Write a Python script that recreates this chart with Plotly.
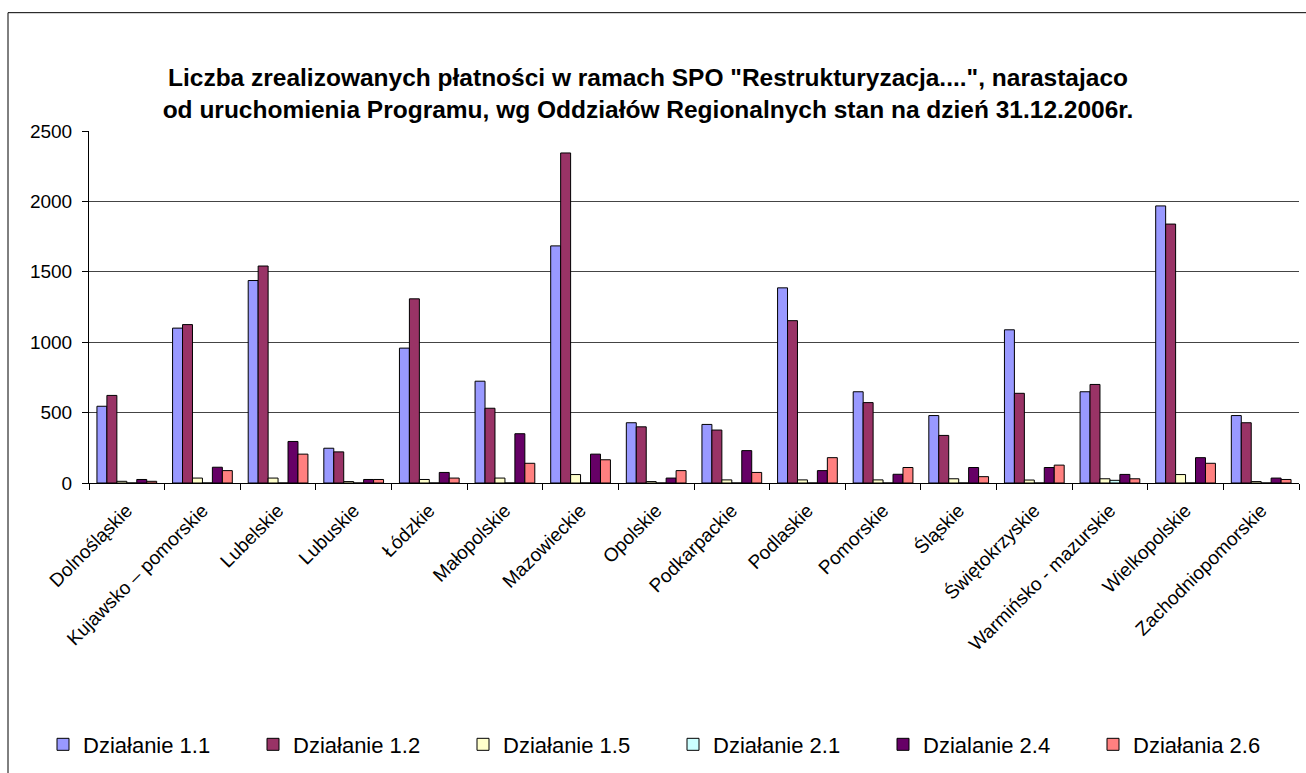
import plotly.graph_objects as go

categories = ["Dolnośląskie", "Kujawsko – pomorskie", "Lubelskie", "Lubuskie", "Łódzkie",
              "Małopolskie", "Mazowieckie", "Opolskie", "Podkarpackie", "Podlaskie",
              "Pomorskie", "Śląskie", "Świętokrzyskie", "Warmińsko - mazurskie",
              "Wielkopolskie", "Zachodniopomorskie"]

series_names = ["Działanie 1.1", "Działanie 1.2", "Działanie 1.5", "Działanie 2.1",
                "Dzialanie 2.4", "Działania 2.6"]

d11 = [545, 1100, 1438, 247, 958, 723, 1684, 428, 416, 1386, 648, 479, 1088, 648, 1968, 479]
d12 = [622, 1125, 1541, 221, 1308, 531, 2344, 399, 376, 1153, 571, 338, 637, 700, 1839, 428]
d15 = [12, 35, 35, 10, 25, 35, 60, 10, 22, 22, 22, 30, 21, 30, 60, 10]
d21 = [0, 0, 0, 0, 0, 0, 0, 0, 0, 0, 0, 0, 0, 19, 0, 0]
d24 = [25, 112, 295, 25, 75, 350, 205, 35, 230, 88, 62, 110, 110, 61, 180, 35]
d26 = [12, 88, 205, 25, 35, 140, 165, 88, 75, 180, 110, 45, 127, 30, 140, 25]

y_ticks = [0, 500, 1000, 1500, 2000, 2500]

series_values = [d11, d12, d15, d21, d24, d26]
colors = ["#9999FF", "#993366", "#FFFFCC", "#CCFFFF", "#660066", "#FF8080"]

FONT = "Arial, Liberation Sans, sans-serif"

fig = go.Figure()
for name, vals, col in zip(series_names, series_values, colors):
    fig.add_trace(go.Bar(
        x=categories, y=vals, name=name,
        marker=dict(color=col, line=dict(color="black", width=1)),
    ))

W, H = 1306, 773
L, R, T, B = 89, 7, 131, 288
pw, ph = W - L - R, H - T - B

def px_x(p):
    return (p - L) / pw

def px_y(p):
    return (H - B - p) / ph

fig.update_layout(
    width=W, height=H,
    margin=dict(l=L, r=R, t=T, b=B, pad=0),
    paper_bgcolor="white", plot_bgcolor="white",
    barmode="group", bargap=0.21, bargroupgap=0,
    font=dict(family=FONT, color="black"),
    showlegend=True,
    legend=dict(
        orientation="h", x=px_x(43), xanchor="left", y=px_y(748), yanchor="middle",
        font=dict(size=22, family=FONT, color="black"),
        entrywidth=165, entrywidthmode="pixels",
        bgcolor="rgba(0,0,0,0)", traceorder="normal",
    ),
    title=dict(
        text='Liczba zrealizowanych płatności w ramach SPO "Restrukturyzacja....", narastajaco<br>'
             'od uruchomienia Programu, wg Oddziałów Regionalnych stan na dzień 31.12.2006r.',
        x=648 / W, xanchor="center", xref="container",
        y=1 - 86 / H, yanchor="middle", yref="container",
        font=dict(size=24.5, family=FONT, color="black", weight="bold"),
    ),
    shapes=[dict(
        type="rect", xref="paper", yref="paper",
        x0=px_x(8), x1=px_x(1330), y0=px_y(12), y1=px_y(800),
        line=dict(color="black", width=1), fillcolor="rgba(0,0,0,0)", layer="below",
    )],
)

fig.update_xaxes(
    type="category", tickangle=-45, tickfont=dict(size=19, family=FONT, color="black"),
    showline=True, linecolor="black", linewidth=1, mirror=False,
    ticks="outside", ticklen=6, tickcolor="black", tickson="boundaries",
    showgrid=False, ticklabelstandoff=8,
)
fig.update_yaxes(
    range=[0, 2500], tickvals=y_ticks, tickfont=dict(size=19, family=FONT, color="black"),
    showline=True, linecolor="black", linewidth=1,
    ticks="outside", ticklen=6, tickcolor="black",
    showgrid=True, gridcolor="#444444", gridwidth=1,
    zeroline=False, ticklabelstandoff=6,
)

fig.write_html("out.html", config={"displayModeBar": False},
               post_script="document.body.style.margin='0px';document.body.style.overflow='hidden';")
